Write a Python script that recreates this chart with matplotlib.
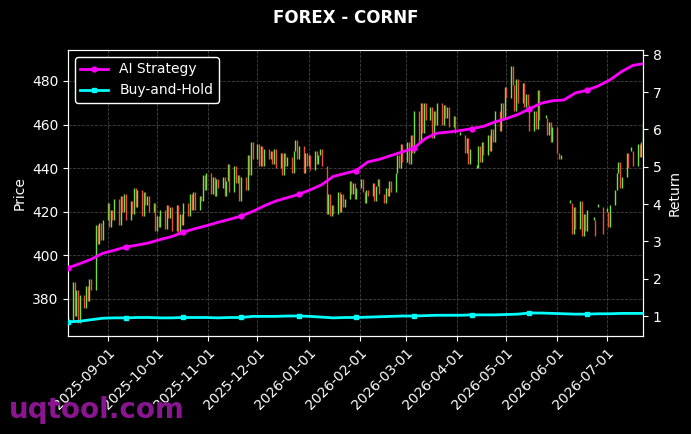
import numpy as np
import pandas as pd
import matplotlib
matplotlib.use("Agg")
import matplotlib.pyplot as plt
import matplotlib.dates as mdates

# ---------------- data ----------------
start_date = "2025-08-08"
n_days = 250
nan = np.nan

closes = [
    370, 388, 372, 384, 369, 382, 376, 386, 379, 389, 384,
    414,
    405, 415, 407, 416,
    424, 413, 421, 416, 426,
    414, 427, 420, 428, 416, 425, 419,
    431, 422, 430,
    418, 429, 423, 427, 420,
    424, 411, 418, 413, 421,
    412, 423, 417, 422, 411,
    423, 410, 419, 414, 424,
    418, 428, 421, 429, 421, 427,
    425, 437, 430, 438, 428, 436,
    427, 435, 431, 436, 427, 434,
    442, 429, 441, 433, 437, 425, 436, 430,
    446, 437, 452, 444, 451, 441, 450,
    441, 449, 444, 448, 442, 449, 440, 447,
    437, 447, 441, 445, 438, 448,
    453, 444, 450,
    438, 447, 441, 446, 439, 448, 442, 446,
    449, 441, 419,
    428, 418, 423, 419, 429, 420, 428, 422, 426,
    434, 428, 433, 426, 431, 435, 429, 424, 430, 427,
    433, 425, 432, 435, 428, 424, 431, 427, 434, 429,
    438, 446, 440, 451, 443, 452,
    442, 455, 447, 466, 452, 470,
    456, 470, 462, 468, 454, 466, 460, 470,
    460, 469, 463, 468, 459, 464,
    456, nan, nan, 455, 447, 454,
    442, 449, nan, 440, 450, 443, 452, 446,
    455, 448, 458, 452, 466, 457,
    470, 463, 477, 472, 487, 478,
    466, 481, 470, 479, 468, 474,
    469, 457, 466, 458, 476, 462, nan,
    463, 455, 461, 452, 459,
    447, 444, 446,
    nan, nan, nan,
    424, 410, 422, 412, 425, 409, 419, 411,
    421, nan, 416, 409, nan, 422, 410, nan, 420, 413,
    423, 430, 438, 443, 431, 436,
    447, 440, nan, 448, 441, 451, 445, 452, 461,
]

# weekly readings of the return curves (every 5th business day + last day)
ai_strategy = [
    2.29, 2.40, 2.52, 2.68, 2.76, 2.85, 2.90, 2.96, 3.05, 3.13,
    3.25, 3.34, 3.42, 3.51, 3.59, 3.68, 3.80, 3.95, 4.08, 4.17,
    4.26, 4.38, 4.52, 4.74, 4.82, 4.90, 5.13, 5.20, 5.30, 5.40,
    5.50, 5.76, 5.90, 5.93, 5.97, 6.02, 6.08, 6.20, 6.29, 6.40,
    6.55, 6.70, 6.77, 6.79, 6.98, 7.05, 7.17, 7.33, 7.55, 7.72,
    7.76,
]
buy_hold = [
    0.84, 0.86, 0.90, 0.94, 0.95, 0.95, 0.96, 0.96, 0.95, 0.95,
    0.96, 0.96, 0.96, 0.95, 0.96, 0.96, 0.99, 0.99, 0.99, 1.00,
    1.00, 0.99, 0.97, 0.95, 0.96, 0.96, 0.97, 0.98, 0.99, 1.00,
    1.00, 1.01, 1.02, 1.02, 1.02, 1.03, 1.03, 1.03, 1.04, 1.05,
    1.08, 1.08, 1.07, 1.06, 1.05, 1.05, 1.06, 1.06, 1.07, 1.07,
    1.07,
]

title = "FOREX - CORNF"
up_color = "#6ee044"
down_color = "#ee4c3c"

# ---------------- build ----------------
dates = pd.bdate_range(start_date, periods=n_days)
close_s = pd.Series(closes, index=dates, dtype=float)
open_s = close_s.shift(1)
open_s = open_s.fillna(close_s)

ret_idx = list(range(0, n_days, 5)) + [n_days - 1]
ret_dates = dates[ret_idx]

plt.style.use("dark_background")
fig = plt.figure(figsize=(6.91, 4.34), dpi=100)
fig.patch.set_facecolor("black")
ax = fig.add_axes([0.0984, 0.2258, 0.8321, 0.659])
ax.set_facecolor("black")

valid = close_s.notna()
xd = mdates.date2num(dates[valid])
o = open_s[valid].values
c = close_s[valid].values
lo = np.minimum(o, c)
hi = np.maximum(np.maximum(o, c), lo + 1.5)
cols = [up_color if cc >= oo else down_color for oo, cc in zip(o, c)]
ax.vlines(xd, lo, hi, colors=cols, linewidth=1.0, zorder=2)

ax.set_ylim(363.0, 494.2)
ax.set_xlim(mdates.date2num(dates[0]), mdates.date2num(dates[-1]))
ax.set_ylabel("Price", color="white", fontsize=10)
ax.grid(True, color="#555555", linestyle="--", linewidth=0.6, alpha=0.8)
ax.set_axisbelow(True)

ax2 = ax.twinx()
l1, = ax2.plot(ret_dates, ai_strategy, color="#ff00ff", linewidth=2,
               marker="o", markersize=3.5, markevery=list(range(0, 50, 5)),
               label="AI Strategy", zorder=3)
l2, = ax2.plot(ret_dates, buy_hold, color="#00ffff", linewidth=2,
               marker="s", markersize=3.5, markevery=list(range(0, 50, 5)),
               label="Buy-and-Hold", zorder=3)
ax2.set_ylim(0.464, 8.13)
ax2.set_ylabel("Return", color="white", fontsize=10)
ax2.set_xlim(mdates.date2num(dates[0]), mdates.date2num(dates[-1]))

ax.xaxis.set_major_locator(mdates.MonthLocator())
ax.xaxis.set_major_formatter(mdates.DateFormatter("%Y-%m-%d"))
for lab in ax.get_xticklabels():
    lab.set_rotation(45)
    lab.set_ha("right")
    lab.set_rotation_mode("anchor")

for a in (ax, ax2):
    for sp in a.spines.values():
        sp.set_color("white")
    a.tick_params(colors="white", labelsize=10)

leg = ax2.legend(handles=[l1, l2], loc="upper left", facecolor="black",
                 edgecolor="white", fontsize=10, framealpha=1.0)
for t in leg.get_texts():
    t.set_color("white")

fig.suptitle(title, color="white", fontsize=12, fontweight="bold", y=0.958, va="center")
fig.text(0.013, 0.037, "uqtool.com", color="#8a1590", fontsize=20,
         fontweight="bold", va="baseline", ha="left", zorder=10)

fig.savefig("out.png", dpi=100, facecolor="black")
